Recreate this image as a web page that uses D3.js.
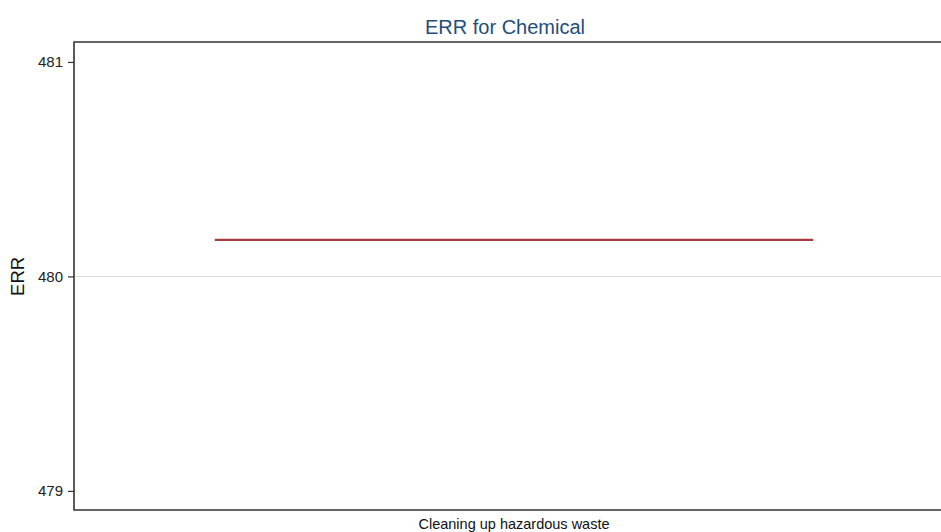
<!DOCTYPE html>
<html><head><meta charset="utf-8">
<script src="https://cdn.jsdelivr.net/npm/d3@7/dist/d3.min.js"></script>
<style>body{margin:0;background:#fff}svg{display:block;font-family:"Liberation Sans",Arial,Helvetica,sans-serif}</style>
</head><body>
<svg id="c" width="941" height="532"></svg>
<script>
const categories = ["Cleaning up hazardous waste"];
const values = [480.17];
const yTicks = [479, 480, 481];
const title = "ERR for Chemical";
const yLabel = "ERR";

const svg = d3.select("#c");
const L = 74, R = 954, T = 42, B = 510;
const x = d3.scaleBand().domain(categories).range([L, R]).padding(0);
const y = d3.scaleLinear().domain([478.911, 481.093]).range([B, T]);

// gridline
svg.append("g").selectAll("line").data([480]).join("line")
  .attr("x1", L).attr("x2", R).attr("y1", d => y(d)).attr("y2", d => y(d))
  .attr("stroke", "#dcdcdc").attr("stroke-width", 1);

// y axis
const ya = svg.append("g").attr("transform", `translate(${L},0)`)
  .call(d3.axisLeft(y).tickValues(yTicks).tickFormat(d3.format("d")).tickSize(6).tickPadding(5));
ya.select(".domain").remove();
ya.selectAll(".tick line").attr("stroke", "#333").attr("stroke-width", 1.2);
ya.selectAll(".tick text").attr("font-size", 15).attr("fill", "#222").attr("font-family", "Liberation Sans, Arial, sans-serif");

// frame
svg.append("path").attr("d", `M${R},${T}H${L}V${B}H${R}`)
  .attr("fill", "none").attr("stroke", "#333").attr("stroke-width", 1.6);

// data line
svg.append("g").selectAll("line").data(categories).join("line")
  .attr("x1", d => x(d) + x.bandwidth() * 0.16)
  .attr("x2", d => x(d) + x.bandwidth() * 0.84)
  .attr("y1", (d, i) => y(values[i])).attr("y2", (d, i) => y(values[i]))
  .attr("stroke", "#a83a40").attr("stroke-width", 2.3);

// x category label
svg.append("g").selectAll("text").data(categories).join("text")
  .attr("x", d => x(d) + x.bandwidth() / 2).attr("y", 529)
  .attr("text-anchor", "middle").attr("font-size", 14.5).attr("fill", "#111").text(d => d);

// title
svg.append("text").attr("x", 505).attr("y", 34).attr("text-anchor", "middle")
  .attr("font-size", 20).attr("fill", "#1f4e7a").text(title);

// y label
svg.append("text").attr("transform", `translate(24,${y(480)}) rotate(-90)`)
  .attr("text-anchor", "middle").attr("font-size", 18.5).attr("fill", "#111").text(yLabel);
</script>
</body></html>
